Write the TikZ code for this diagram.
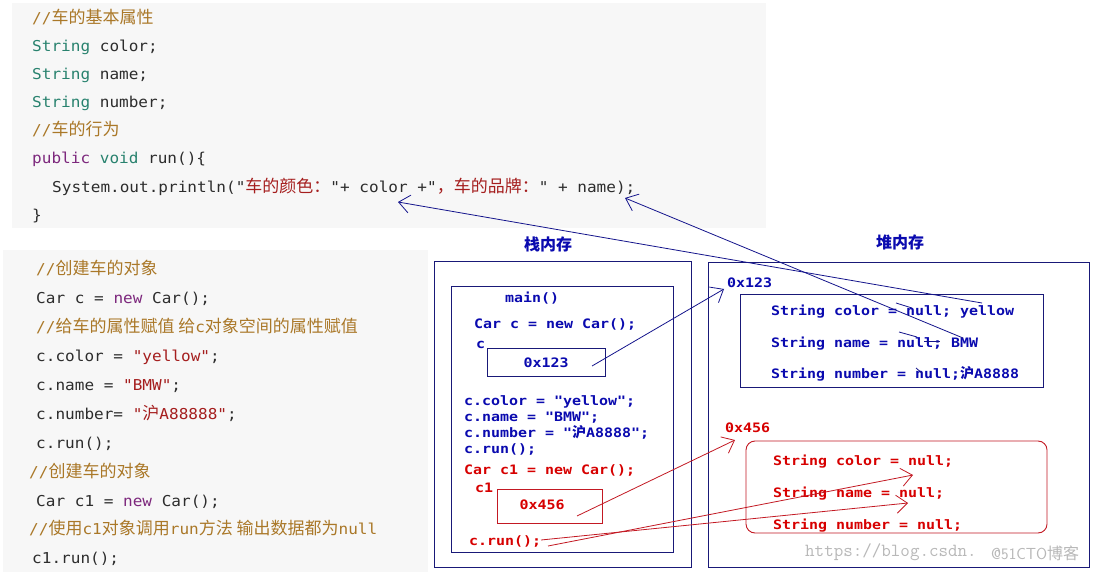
\documentclass[tikz,border=0pt]{standalone}
\usepackage{fontspec}
\usetikzlibrary{arrows.meta}
\newfontfamily\codef[FakeStretch=1.07]{DejaVu Sans Mono}
\newfontfamily\cjk{Noto Sans CJK SC}
\newfontfamily\pixf[FakeStretch=1.15]{DejaVu Sans Mono}
\definecolor{panelbg}{RGB}{247,247,247}
\definecolor{cmt}{RGB}{170,120,40}
\definecolor{typ}{RGB}{40,130,110}
\definecolor{kwd}{RGB}{125,40,125}
\definecolor{strc}{RGB}{165,30,30}
\definecolor{txt}{RGB}{45,45,45}
\definecolor{pblue}{RGB}{10,10,175}
\definecolor{navy}{RGB}{25,25,120}
\definecolor{pred}{RGB}{215,0,0}
\definecolor{lred}{RGB}{195,25,35}
\definecolor{arrowblue}{RGB}{20,20,140}
\newcommand{\zh}[1]{{\fontsize{17}{20}\selectfont\cjk #1}}
\newcommand{\pzh}[1]{{\fontsize{14}{16}\selectfont\cjk\bfseries #1}}
\begin{document}
\begin{tikzpicture}[x=1pt,y=-1pt,
  codeline/.style={anchor=west,inner sep=0pt,yshift=-2pt,text=txt,font=\fontsize{15}{18}\selectfont\codef,text height=11pt,text depth=3pt},
  pixline/.style={anchor=west,inner sep=0pt,yshift=-1pt,font=\fontsize{13}{15}\selectfont\pixf\bfseries,text height=9pt,text depth=2pt},
  bluebox/.style={draw=navy,line width=0.9pt},
  redbox/.style={draw=lred,line width=0.9pt},
  barb/.style={-{Straight Barb[length=11pt,width=18pt,line width=0.8pt]},line width=0.8pt},
  title/.style={inner sep=0pt,text=pblue,font=\fontsize{16}{18}\selectfont\cjk\bfseries}
]
\useasboundingbox (0,0) rectangle (1095,572);
\fill[white] (0,0) rectangle (1095,572);
% code panels
\fill[panelbg] (12,3) rectangle (766,228);
\fill[panelbg] (3,250) rectangle (428,572);

% top code
\node[codeline,text=cmt] (t1) at (32,18) {//\zh{车的基本属性}};
\node[codeline] (t2) at (32,46) {{\color{typ}String} color;};
\node[codeline] (t3) at (32,74) {{\color{typ}String} name;};
\node[codeline] (t4) at (32,102) {{\color{typ}String} number;};
\node[codeline,text=cmt] (t5) at (32,130) {//\zh{车的行为}};
\node[codeline] (t6) at (32,158) {{\color{kwd}public} {\color{typ}void} run()\{};
\node[codeline] (t7) at (52,187) {System.out.println("{\color{strc}\zh{车的颜色：}}"+ color +"{\color{strc}\zh{，车的品牌：}}" + name);};
\node[codeline] (t8) at (32,215) {\}};

% bottom code
\node[codeline,text=cmt] (b1) at (36,268) {//\zh{创建车的对象}};
\node[codeline] (b2) at (36,297) {Car c = {\color{kwd}new} Car();};
\node[codeline,text=cmt] (b3) at (36,326) {//\zh{给车的属性赋值 给}c\zh{对象空间的属性赋值}};
\node[codeline] (b4) at (36,355) {c.color = {\color{strc}"yellow"};};
\node[codeline] (b5) at (36,384) {c.name = {\color{strc}"BMW"};};
\node[codeline] (b6) at (36,413) {c.number= {\color{strc}"\zh{沪}A88888"};};
\node[codeline] (b7) at (36,442) {c.run();};
\node[codeline,text=cmt] (b8) at (29,471) {//\zh{创建车的对象}};
\node[codeline] (b9) at (36,500) {Car c1 = {\color{kwd}new} Car();};
\node[codeline,text=cmt] (b10) at (29,528) {//\zh{使用}c1\zh{对象调用}run\zh{方法 输出数据都为}null};
\node[codeline] (b11) at (32,557) {c1.run();};

% stack
\node[title] (stackT) at (548,244) {栈内存};
\draw[bluebox] (434,261) rectangle (691,567);
\draw[bluebox] (451,286) rectangle (673,552);
\node[pixline,text=pblue] (mainf) at (505,298) {main()};
\node[pixline,text=pblue] (s1) at (474,324) {Car c = new Car();};
\node[pixline,text=pblue] (sc) at (476,344) {c};
\node[bluebox,minimum width=118pt,minimum height=28pt,inner sep=0pt] (box123) at (546,362) {};
\node[pixline,text=pblue,anchor=center] (v123) at (546,363) {0x123};
\node[pixline,text=pblue] (s2) at (464,401) {c.color = "yellow";};
\node[pixline,text=pblue] (s3) at (464,417) {c.name = "BMW";};
\node[pixline,text=pblue] (s4) at (464,433) {c.number = "\pzh{沪}A8888";};
\node[pixline,text=pblue] (s5) at (464,449) {c.run();};
\node[pixline,text=pred] (s6) at (464,470) {Car c1 = new Car();};
\node[pixline,text=pred] (sc1) at (475,488) {c1};
\node[redbox,minimum width=105pt,minimum height=34pt,inner sep=0pt] (box456) at (549.5,506) {};
\node[pixline,text=pred,anchor=center] (v456) at (542,505) {0x456};
\node[pixline,text=pred] (s7) at (469,541) {c.run();};

% heap
\node[title] (heapT) at (900,242) {堆内存};
\draw[bluebox] (708,262) rectangle (1089,567);
\node[pixline,text=pblue] (h123) at (727,283) {0x123};
\draw[bluebox] (740,294) rectangle (1043,387);
\node[pixline,text=pblue] (hc) at (771,311) {String color = null; yellow};
\node[pixline,text=pblue] (hn) at (771,343) {String name = null;  BMW};
\node[pixline,text=pblue] (hu) at (771,374) {String number = null;\pzh{沪}A8888};
\node[pixline,text=pred] (h456) at (725,428) {0x456};
\draw[redbox,rounded corners=9pt] (746,441) rectangle (1047,533);
\node[pixline,text=pred] (rc) at (773,461) {String color = null;};
\node[pixline,text=pred] (rn) at (773,493) {String name = null;};
\node[pixline,text=pred] (ru) at (773,525) {String number = null;};

% watermark
\node[anchor=west,inner sep=0pt,text=black!28,font=\fontsize{18.5}{21}\selectfont\ttfamily] (wm) at (805,552) {https://blog.csdn.};
\node[anchor=west,inner sep=0pt,text=black!28,font=\fontsize{16}{18}\selectfont\sffamily] (wm2) at (991,553) {@51CTO\cjk 博客};

% connector coordinates
\coordinate (a123s) at (592,366);
\coordinate (a123t) at (724,289);
\coordinate (a456s) at (577,516);
\coordinate (a456t) at (735,440);
\coordinate (yel) at (982,303);
\coordinate (colT) at (398,202);
\coordinate (bmw) at (963,338);
\coordinate (namT) at (625,198);
\coordinate (run1) at (541,540);
\coordinate (run2) at (548,546);
\coordinate (tipA) at (908,503);
\coordinate (tipB) at (913,475);

\draw[barb,draw=arrowblue] (a123s) -- (a123t);
\draw[barb,draw=arrowblue] (yel) -- (colT);
\draw[barb,draw=arrowblue] (bmw) -- (namT);
\draw[barb,draw=lred] (a456s) -- (a456t);
\draw[barb,draw=lred] (run1) -- (tipA);
\draw[barb,draw=lred] (run2) -- (tipB);

% scribbles over null
\draw[arrowblue,line width=0.8pt] (896,303) -- (912,308);
\draw[arrowblue,line width=0.8pt] (899,332) -- (917,337);
\draw[arrowblue,line width=0.8pt] (924,341) -- (940,341);
\draw[arrowblue,line width=0.8pt] (916,368) -- (922,373);
\end{tikzpicture}
\end{document}
